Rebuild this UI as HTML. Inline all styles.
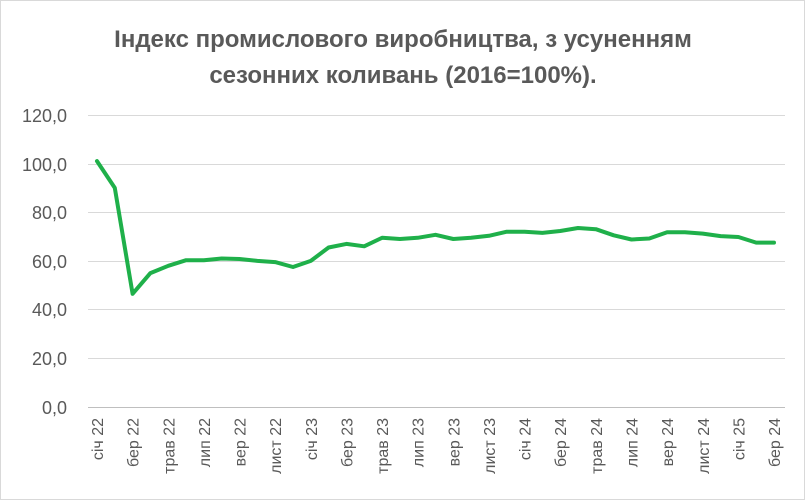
<!DOCTYPE html>
<html><head><meta charset="utf-8"><style>
html,body{margin:0;padding:0;background:#fff;}
svg{display:block;font-family:"Liberation Sans",Arial,sans-serif;}
</style></head><body>
<svg width="805" height="500" viewBox="0 0 805 500" xmlns="http://www.w3.org/2000/svg">
<rect x="0.5" y="0.5" width="804" height="499" fill="#fff" stroke="#d9d9d9"/>
<text x="403" y="47" text-anchor="middle" font-size="24" font-weight="bold" fill="#595959">Індекс промислового виробництва, з усуненням</text>
<text x="403" y="83" text-anchor="middle" font-size="24" font-weight="bold" fill="#595959">сезонних коливань (2016=100%).</text>
<g stroke="#d9d9d9" stroke-width="1">
<line x1="88" y1="115.5" x2="785" y2="115.5"/>
<line x1="88" y1="164.5" x2="785" y2="164.5"/>
<line x1="88" y1="212.5" x2="785" y2="212.5"/>
<line x1="88" y1="261.5" x2="785" y2="261.5"/>
<line x1="88" y1="309.5" x2="785" y2="309.5"/>
<line x1="88" y1="358.5" x2="785" y2="358.5"/>
</g>
<line x1="88" y1="407.5" x2="785" y2="407.5" stroke="#bfbfbf"/>
<g font-size="18" fill="#595959" text-anchor="end">
<text x="67" y="122">120,0</text>
<text x="67" y="171">100,0</text>
<text x="67" y="219">80,0</text>
<text x="67" y="268">60,0</text>
<text x="67" y="316">40,0</text>
<text x="67" y="365">20,0</text>
<text x="67" y="414">0,0</text>
</g>
<g font-size="16" fill="#595959" text-anchor="end">
<text transform="translate(103,418) rotate(-90)">січ 22</text>
<text transform="translate(138.6,418) rotate(-90)">бер 22</text>
<text transform="translate(174.3,418) rotate(-90)">трав 22</text>
<text transform="translate(209.9,418) rotate(-90)">лип 22</text>
<text transform="translate(245.5,418) rotate(-90)">вер 22</text>
<text transform="translate(281.2,418) rotate(-90)">лист 22</text>
<text transform="translate(316.8,418) rotate(-90)">січ 23</text>
<text transform="translate(352.4,418) rotate(-90)">бер 23</text>
<text transform="translate(388.1,418) rotate(-90)">трав 23</text>
<text transform="translate(423.7,418) rotate(-90)">лип 23</text>
<text transform="translate(459.3,418) rotate(-90)">вер 23</text>
<text transform="translate(495,418) rotate(-90)">лист 23</text>
<text transform="translate(530.6,418) rotate(-90)">січ 24</text>
<text transform="translate(566.2,418) rotate(-90)">бер 24</text>
<text transform="translate(601.9,418) rotate(-90)">трав 24</text>
<text transform="translate(637.5,418) rotate(-90)">лип 24</text>
<text transform="translate(673.1,418) rotate(-90)">вер 24</text>
<text transform="translate(708.8,418) rotate(-90)">лист 24</text>
<text transform="translate(744.4,418) rotate(-90)">січ 25</text>
<text transform="translate(780,418) rotate(-90)">бер 24</text>
</g>
<polyline fill="none" stroke="#1fb04a" stroke-width="4" stroke-linejoin="round" stroke-linecap="round" points="97,161.1 114.8,187.9 132.6,293.8 150.4,273.1 168.3,265.8 186.1,260.2 203.9,260.2 221.7,258.5 239.5,259 257.3,260.9 275.2,262.1 293,267 310.8,260.9 328.6,247.5 346.4,243.9 364.2,246.3 382.1,237.8 399.9,239 417.7,237.8 435.5,234.8 453.3,239 471.1,237.8 489,235.8 506.8,231.7 524.6,231.7 542.4,232.9 560.2,231 578,228 595.9,229.2 613.7,235.3 631.5,239.5 649.3,238.5 667.1,232.2 684.9,232.2 702.8,233.6 720.6,236.1 738.4,237 756.2,242.6 774,242.6"/>
</svg>
</body></html>
